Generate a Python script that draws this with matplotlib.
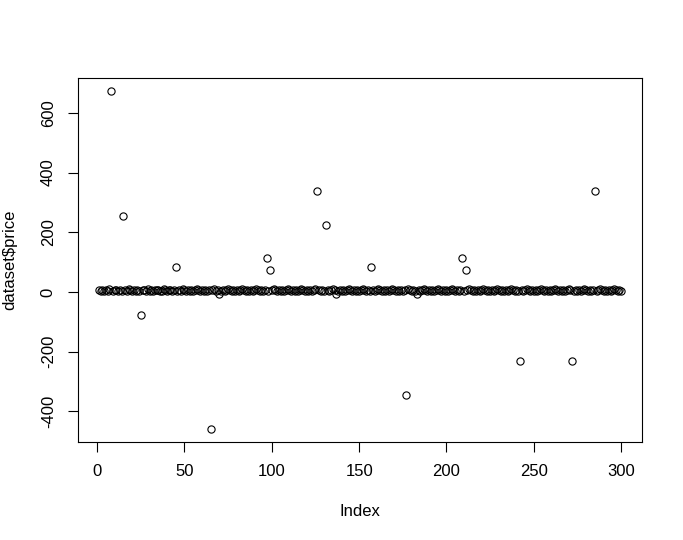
import matplotlib.pyplot as plt

plt.rcParams['font.family'] = ['Liberation Sans', 'DejaVu Sans']

# price values, index 1..300
price = [
    5, 3, 8, 2, 6, 4, 9, 672, 3, 7, 5, 2, 8, 4, 256, 6, 3, 9, 5, 2,
    7, 4, 6, 3, -77, 8, 5, 2, 9, 4, 6, 3, 7, 5, 8, 2, 4, 9, 6, 3,
    5, 8, 2, 7, 84, 4, 6, 3, 9, 5, 2, 8, 4, 7, 3, 6, 9, 5, 2, 8,
    4, 7, 3, 6, -458, 5, 9, 2, 8, -6, 4, 7, 3, 6, 9, 5, 2, 8, 4, 7,
    3, 6, 9, 5, 2, 8, 4, 7, 3, 6, 9, 5, 2, 8, 4, 7, 115, 3, 74, 6,
    9, 5, 2, 8, 4, 7, 3, 6, 9, 5, 2, 8, 4, 7, 3, 6, 9, 5, 2, 8,
    4, 7, 3, 6, 9, 337, 5, 2, 8, 4, 226, 7, 3, 6, 9, 5, -7, 2, 8, 4,
    7, 3, 6, 9, 5, 2, 8, 4, 7, 3, 6, 9, 5, 2, 8, 4, 84, 7, 3, 6,
    9, 5, 2, 8, 4, 7, 3, 6, 9, 5, 2, 8, 4, 7, 3, 6, -347, 9, 5, 2,
    8, 4, -6, 7, 3, 6, 9, 5, 2, 8, 4, 7, 3, 6, 9, 5, 2, 8, 4, 7,
    3, 6, 9, 5, 2, 8, 4, 7, 115, 3, 74, 6, 9, 5, 2, 8, 4, 7, 3, 6,
    9, 5, 2, 8, 4, 7, 3, 6, 9, 5, 2, 8, 4, 7, 3, 6, 9, 5, 2, 8,
    4, -233, 7, 3, 6, 9, 5, 2, 8, 4, 7, 3, 6, 9, 5, 2, 8, 4, 7, 3,
    6, 9, 5, 2, 8, 4, 7, 3, 6, 9, 5, -233, 2, 8, 4, 7, 3, 6, 9, 5,
    2, 8, 4, 7, 337, 3, 6, 9, 5, 2, 8, 4, 7, 3, 6, 9, 5, 2, 8, 4,
]
index = list(range(1, len(price) + 1))
xticks = [0, 50, 100, 150, 200, 250, 300]
yticks = [-400, -200, 0, 200, 400, 600]

fig = plt.figure(figsize=(6.83, 5.4), dpi=100)
ax = fig.add_axes([78 / 683, 1 - 442 / 540, 564 / 683, 364 / 540])
ax.plot(index, price, 'o', mfc='none', mec='black', ms=5.2, mew=0.8)

span = max(index) - min(index)
ax.set_xlim(min(index) - 0.04 * span, max(index) + 0.04 * span)
yspan = max(price) - min(price)
ax.set_ylim(min(price) - 0.04 * yspan, max(price) + 0.04 * yspan)

ax.set_xticks(xticks)
ax.set_yticks(yticks)
ax.set_yticklabels([str(v) for v in yticks], rotation=90, va='center')
ax.tick_params(direction='out', length=7, width=0.8, labelsize=12, pad=9)
for s in ax.spines.values():
    s.set_linewidth(0.8)

ax.set_xlabel("Index", fontsize=12, labelpad=18)
ax.set_ylabel("dataset$price", fontsize=12, labelpad=17)

fig.savefig("out.png", dpi=100)
